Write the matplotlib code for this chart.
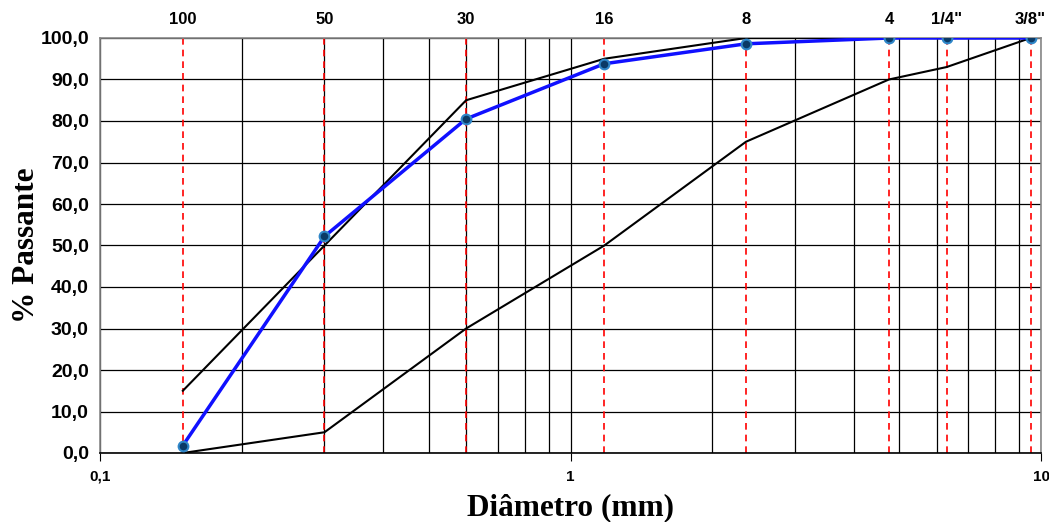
import matplotlib
matplotlib.use("Agg")
import matplotlib.pyplot as plt
from matplotlib.ticker import FixedLocator, NullFormatter

# sieve openings (mm) and their names
sieve_mm = [0.15, 0.3, 0.6, 1.18, 2.36, 4.75, 6.3, 9.5]
sieve_names = ["100", "50", "30", "16", "8", "4", '1/4"', '3/8"']

# sample grading (% passing)
sample_pass = [1.8, 52.2, 80.5, 93.8, 98.6, 100.0, 100.0, 100.0]

# grading envelope
upper_mm = [0.15, 0.3, 0.6, 1.18, 2.36, 4.75, 9.5]
upper_pass = [15, 50, 85, 95, 100, 100, 100]
lower_mm = [0.15, 0.3, 0.6, 1.18, 2.36, 4.75, 6.3, 9.5]
lower_pass = [0, 5, 30, 50, 75, 90, 93, 100]

label_font = {"family": "Liberation Sans", "weight": "bold"}

fig = plt.figure(figsize=(10.49, 5.22), dpi=100)
ax = fig.add_axes([100 / 1049, 69 / 522, 941 / 1049, 415 / 522])

ax.set_xscale("log")
ax.set_xlim(0.1, 10)
ax.set_ylim(0, 100)

# grid
ax.xaxis.set_minor_locator(FixedLocator([m * d for d in (0.1, 1) for m in range(2, 10)]))
ax.xaxis.set_minor_formatter(NullFormatter())
ax.set_yticks(range(0, 101, 10))
ax.grid(True, which="both", axis="x", color="black", lw=0.9)
ax.grid(True, which="major", axis="y", color="black", lw=0.9)
ax.set_axisbelow(True)

for x in sieve_mm:
    ax.axvline(x, color="red", ls=(0, (4, 3)), lw=1.2, zorder=2)

ax.plot(upper_mm, upper_pass, color="black", lw=1.5, zorder=3)
ax.plot(lower_mm, lower_pass, color="black", lw=1.5, zorder=3)
ax.plot(sieve_mm, sample_pass, color="#1010ff", lw=2.5, zorder=4,
        marker="o", ms=7, mfc="#0b3a66", mec="#2f86c8", mew=1.5)

ax.set_xticks([0.1, 1, 10])
ax.set_xticklabels(["0,1", "1", "10"], fontdict=label_font, fontsize=11)
ax.set_yticklabels([f"{v},0" for v in range(0, 101, 10)], fontdict=label_font, fontsize=14)
ax.tick_params(axis="x", which="major", length=6, pad=6, color="black")
ax.tick_params(axis="x", which="minor", length=0)
ax.tick_params(axis="y", length=0, pad=8)

for side in ("left", "bottom", "right", "top"):
    ax.spines[side].set_color("#888888")
    ax.spines[side].set_linewidth(1.2)
ax.spines["bottom"].set_color("black")

ax.set_xlabel("Diâmetro (mm)", family="Liberation Serif", weight="bold", fontsize=22.5)
ax.xaxis.set_label_coords(0.5, -0.097)
ax.set_ylabel("% Passante", family="Liberation Serif", weight="bold", fontsize=22.5)
ax.yaxis.set_label_coords(-0.063, 0.5)

top = ax.twiny()
top.set_xscale("log")
top.set_xlim(ax.get_xlim())
top.set_xticks(sieve_mm)
top.xaxis.set_minor_locator(FixedLocator([]))
top.set_xticklabels(sieve_names, fontdict=label_font, fontsize=12)
top.tick_params(axis="x", length=0, pad=8)
for side in top.spines.values():
    side.set_visible(False)

fig.savefig("out.png", dpi=100)
